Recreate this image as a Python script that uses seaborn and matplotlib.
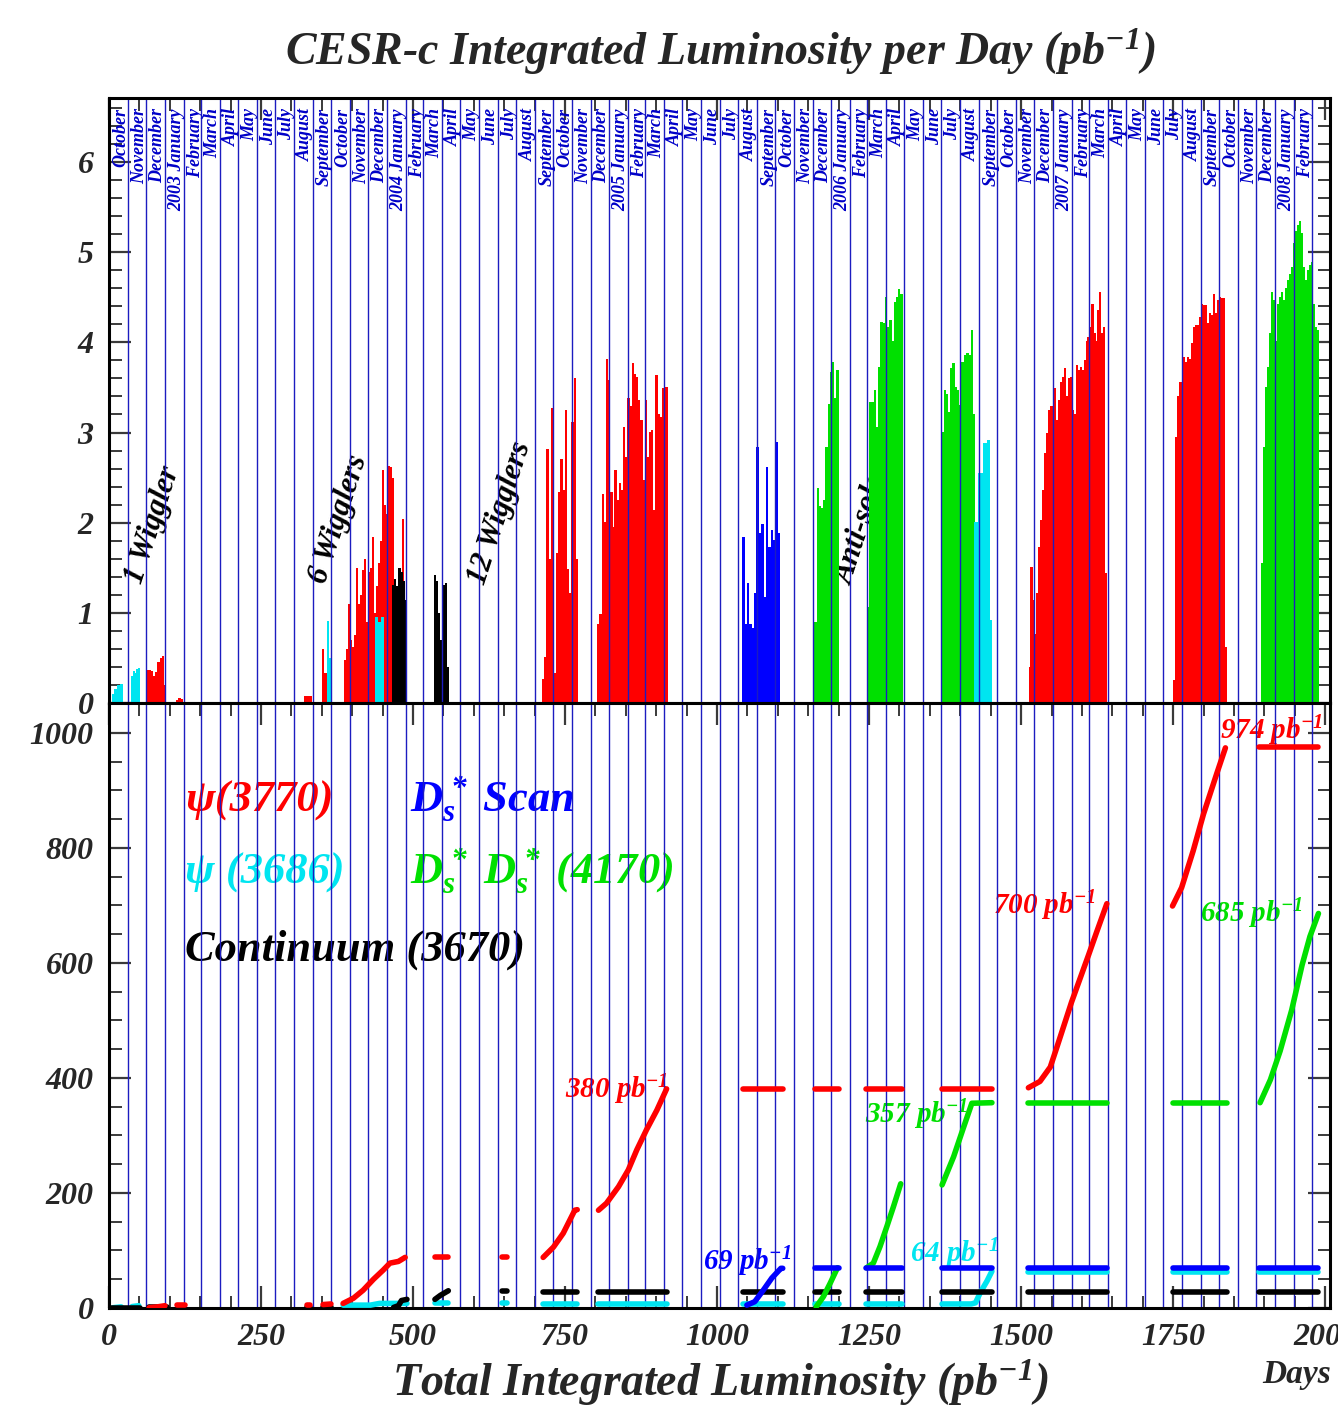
import numpy as np
import pandas as pd
import matplotlib
matplotlib.use("Agg")
import matplotlib.pyplot as plt
import matplotlib.transforms as mtransforms
from matplotlib.ticker import MultipleLocator
import seaborn as sns

# ---- calendar (day 0 = 1 October 2002) ----
first_day = "2002-10-01"
month_label_range = ("2002-10-01", "2008-02-01")
month_line_range = ("2002-11-01", "2008-03-01")

# ---- daily luminosity (pb^-1 per day): runs of (first day, last day, values) ----
psi3770_runs = [
    (64, 92, [0.37, 0.37, 0.36, 0.3, 0.34, 0.45, 0.5, 0.52, 0.2]),
    (112, 120, [0.03, 0.06, 0.04]),
    (324, 330, [0.08, 0.08]),
    (352, 356, [0.6, 0.33]),
    (388, 484, [0.48, 0.6, 1.1, 0.7, 0.62, 0.75, 1.5, 1.1, 1.2, 1.47, 1.6, 0.9, 1.45, 1.5, 1.84,
                1.0, 1.3, 1.55, 1.8, 2.58, 2.2, 2.1, 2.63, 2.62, 2.5, 1.2, 1.0, 1.0, 1.1, 2.04]),
    (714, 770, [0.27, 0.51, 2.82, 1.6, 3.27, 0.33, 1.66, 2.34, 2.71, 2.36, 3.25, 1.49, 1.22, 3.12, 3.6, 1.6]),
    (805, 918, [0.88, 0.99, 2.32, 2.01, 3.82, 3.58, 2.34, 1.95, 2.58, 2.25, 2.44, 2.36, 3.06, 2.73, 3.38,
                3.29, 3.77, 3.65, 3.62, 3.36, 3.14, 2.47, 3.36, 2.73, 3.01, 3.03, 2.14, 3.64, 3.21, 3.17,
                3.49, 3.51, 3.51]),
    (1514, 1640, [0.4, 1.51, 1.14, 0.77, 1.22, 1.73, 2.03, 2.36, 2.77, 2.99, 3.25, 3.29, 3.29, 3.49, 3.14,
                  3.36, 3.56, 3.62, 3.71, 3.4, 3.6, 3.62, 3.25, 3.21, 3.75, 3.69, 3.73, 3.69, 3.8, 4.02,
                  4.06, 4.17, 4.43, 4.1, 4.02, 4.36, 4.56, 4.1, 4.17, 1.44]),
    (1752, 1837, [0.25, 2.95, 3.4, 3.56, 3.56, 3.84, 3.78, 3.84, 3.82, 3.99, 4.17, 4.19, 4.19, 4.28, 4.43,
                  4.41, 4.41, 4.21, 4.32, 4.3, 4.54, 4.32, 4.47, 4.5, 4.49, 4.49, 0.62]),
]
dsscan_runs = [
    (1043, 1102, [1.84, 0.88, 1.33, 0.88, 0.83, 1.22, 2.84, 1.88, 1.99, 1.18, 2.62, 1.73, 1.92, 1.81, 2.9, 1.88]),
]
dsds_runs = [
    (1162, 1198, [0.9, 2.38, 2.18, 2.16, 2.25, 2.84, 3.32, 3.67, 3.78, 3.38, 3.69]),
    (1249, 1303, [1.07, 3.34, 3.34, 3.47, 3.06, 3.73, 4.23, 4.21, 4.5, 4.17, 4.25, 4.02, 4.45, 4.5, 4.59, 4.54]),
    (1372, 1422, [3.01, 3.47, 3.43, 3.23, 3.71, 3.77, 3.51, 3.47, 3.3, 3.78, 3.78, 3.86, 3.88, 3.86, 4.14, 3.21]),
    (1896, 1988, [1.55, 2.84, 3.51, 3.73, 4.1, 4.56, 4.47, 4.02, 4.43, 4.5, 4.56, 4.47, 4.6, 4.69, 4.76,
                  4.84, 5.1, 5.24, 5.3, 5.35, 5.21, 4.84, 4.69, 4.8, 4.86, 4.89, 4.43, 4.17, 4.14]),
]
psi3686_runs = [
    (7, 20, [0.1, 0.15, 0.2, 0.21]),
    (38, 49, [0.3, 0.36, 0.33, 0.38, 0.39]),
    (360, 364, [0.91, 0.5]),
    (440, 449, [0.95, 0.9, 0.95]),
    (1424, 1450, [2.01, 2.01, 2.55, 2.55, 2.88, 2.88, 2.92, 0.92]),
]
cont_runs = [
    (467, 488, [1.31, 1.37, 1.3, 1.5, 1.45, 1.35, 1.14]),
    (536, 558, [1.42, 1.35, 1.0, 0.7, 1.2, 1.31, 1.33, 0.4]),
]

# ---- integrated luminosity (pb^-1), one list per running period ----
psi3770_cum_days = [[66, 80, 92], [112, 125], [325, 331], [352, 365],
                    [385, 402, 418, 435, 451, 462, 476, 487], [536, 558], [647, 654],
                    [714, 731, 747, 766, 770], [805, 818, 838, 854, 868, 884, 901, 917],
                    [1043, 1108], [1161, 1200], [1245, 1304], [1370, 1452],
                    [1512, 1531, 1548, 1559, 1583, 1611, 1624, 1641],
                    [1749, 1764, 1783, 1800, 1822, 1836], [1892, 1989]]
psi3770_cum = [[0.5, 2, 4], [4.5, 4.5], [5, 5], [6, 7],
               [8, 17, 31, 50, 66, 78, 81, 88], [88, 88], [88, 88],
               [88, 106, 130, 170, 171], [170, 182, 211, 240, 275, 310, 344, 381],
               [381, 381], [381, 381], [381, 381], [381, 381],
               [383, 394, 419, 454, 532, 614, 653, 703],
               [699, 731, 795, 859, 930, 974], [975, 975]]
dsds_cum_days = [[1163, 1175, 1186, 1198], [1246, 1257, 1268, 1279, 1290, 1302],
                 [1370, 1389, 1405, 1419, 1452], [1512, 1641], [1749, 1838],
                 [1893, 1910, 1926, 1945, 1962, 1975, 1989]]
dsds_cum = [[2, 20, 43, 70], [70, 78, 107, 141, 176, 216],
            [214, 263, 313, 356, 357], [357, 357], [357, 357],
            [357, 397, 447, 518, 596, 646, 686]]
dsscan_cum_days = [[1049, 1062, 1076, 1090, 1105, 1108], [1161, 1200], [1245, 1304],
                   [1370, 1452], [1512, 1641], [1749, 1838], [1892, 1989]]
dsscan_cum = [[5, 11, 31, 52, 69, 69], [69, 69], [69, 69], [69, 69], [69, 69], [69, 69], [69, 69]]
psi3686_cum_days = [[7, 20], [38, 49], [385, 430, 445, 490], [536, 558], [647, 654],
                    [714, 770], [805, 918], [1043, 1108], [1161, 1200], [1245, 1304],
                    [1370, 1418, 1425, 1433, 1444, 1452], [1512, 1641], [1749, 1838], [1892, 1989]]
psi3686_cum = [[0.5, 2], [2.5, 4], [5, 5, 8, 8], [8, 8], [8, 8],
               [7, 7], [7, 7], [7, 7], [7, 7], [7, 7],
               [7, 7, 9, 27, 47, 64], [63, 63], [63, 63], [63, 63]]
cont_cum_days = [[2, 51], [66, 96], [325, 331], [352, 365], [468, 476, 481, 490],
                 [536, 545, 558], [647, 654], [714, 770], [805, 918], [1043, 1108],
                 [1161, 1200], [1245, 1304], [1370, 1452], [1512, 1641], [1749, 1838], [1892, 1989]]
cont_cum = [[0.5, 0.5], [1, 1], [1, 1], [1.5, 1.5], [1, 4, 13, 15],
            [15, 22, 30], [29, 29], [28, 28], [28, 28], [28, 28],
            [28, 28], [28, 28], [28, 28], [28, 28], [28, 28], [28, 28]]

# ---- text annotations ----
wiggler_labels = ["1 Wiggler", "6 Wigglers", "12 Wigglers", "Anti-solenoid"]
wiggler_pos = [(54, 1.31), (355, 1.31), (618, 1.30), (1222, 1.30)]
total_labels = ["380", "69", "357", "64", "700", "685", "974"]
total_pos = [(750, 365), (977, 66), (1243, 322), (1318, 80), (1454, 685), (1794, 671), (1827, 989)]
total_kind = ["psi3770", "dsscan", "dsds", "psi3686", "psi3770", "dsds", "psi3770"]

colors = {"psi3770": "#FF0000", "dsscan": "#0000FF", "dsds": "#00E000",
          "psi3686": "#00E5F0", "cont": "#000000"}
month_blue = "#1C1CC0"

sns.set_theme(style="ticks")
plt.rcParams["font.family"] = ["Liberation Serif", "DejaVu Serif"]
plt.rcParams["font.weight"] = "bold"
plt.rcParams["font.style"] = "italic"
plt.rcParams["mathtext.fontset"] = "custom"
plt.rcParams["mathtext.rm"] = "Liberation Serif:italic:bold"
plt.rcParams["mathtext.it"] = "Liberation Serif:italic:bold"
plt.rcParams["mathtext.bf"] = "Liberation Serif:italic:bold"

W, H = 1338, 1406
fig = plt.figure(figsize=(W / 100, H / 100), dpi=100)
fig.patch.set_facecolor("white")
x0, x1 = 109 / W, 1330 / W
ax1 = fig.add_axes([x0, 1 - 703 / H, x1 - x0, 605 / H])
ax2 = fig.add_axes([x0, 1 - 1308 / H, x1 - x0, 605 / H])

t0 = pd.Timestamp(first_day)
label_months = pd.date_range(*month_label_range, freq="MS")
line_months = pd.date_range(*month_line_range, freq="MS")
label_days = [(d - t0).days for d in label_months]
line_days = [(d - t0).days for d in line_months]
month_labels = [(f"{d.year} " if d.month == 1 else "") + d.strftime("%B") for d in label_months]

# ---- top panel: daily bars ----
for runs, key in [(psi3770_runs, "psi3770"), (dsscan_runs, "dsscan"), (dsds_runs, "dsds"),
                  (psi3686_runs, "psi3686"), (cont_runs, "cont")]:
    for start, end, vals in runs:
        days = np.linspace(start, end, len(vals))
        w = (end - start) / max(len(vals) - 1, 1) * 1.1
        ax1.bar(days, vals, width=w, color=colors[key], linewidth=0, zorder=2)

for txt, (dx, dy) in zip(wiggler_labels, wiggler_pos):
    ax1.text(dx, dy, txt, rotation=72, rotation_mode="anchor", ha="left", va="baseline",
             fontsize=22, color="black", zorder=1)

trans = mtransforms.blended_transform_factory(ax1.transData, ax1.transAxes)
for d, lab in zip(label_days, month_labels):
    ax1.text(d + 5, 0.983, lab, transform=trans, rotation=90, ha="left", va="top",
             fontsize=13, color="#0000C8", zorder=4)

# ---- bottom panel: integrated luminosity ----
rows = []
seg = 0
for key, dlist, vlist in [("psi3686", psi3686_cum_days, psi3686_cum), ("cont", cont_cum_days, cont_cum),
                          ("psi3770", psi3770_cum_days, psi3770_cum), ("dsds", dsds_cum_days, dsds_cum),
                          ("dsscan", dsscan_cum_days, dsscan_cum)]:
    for dd, vv in zip(dlist, vlist):
        for d, v in zip(dd, vv):
            rows.append({"day": d, "lum": v, "kind": key, "seg": seg})
        seg += 1
df = pd.DataFrame(rows)
sns.lineplot(data=df, x="day", y="lum", hue="kind", units="seg", estimator=None,
             hue_order=["psi3686", "cont", "psi3770", "dsds", "dsscan"], palette=colors,
             lw=4, legend=False, ax=ax2, zorder=3, solid_capstyle="round")

ax2.text(125, 863, "ψ(3770)", fontsize=32, color=colors["psi3770"], zorder=1)
ax2.text(495, 863, r"$D_s^*$ Scan", fontsize=32, color=colors["dsscan"], zorder=1)
ax2.text(125, 738, "ψ (3686)", fontsize=32, color=colors["psi3686"], zorder=1)
ax2.text(495, 738, r"$D_s^*\ D_s^*$ (4170)", fontsize=32, color=colors["dsds"], zorder=1)
ax2.text(125, 604, "Continuum (3670)", fontsize=32, color="black", zorder=1)
for lab, (dx, dy), key in zip(total_labels, total_pos, total_kind):
    ax2.text(dx, dy, lab + r" pb$^{-1}$", fontsize=21, color=colors[key], zorder=1)

# ---- month lines, axes ----
for ax in (ax1, ax2):
    for d in line_days:
        ax.axvline(d, color=month_blue, lw=1.0, zorder=2.5)
    ax.set_xlim(0, 2008)
    ax.set_facecolor("white")
    ax.set_xlabel("")
    ax.set_ylabel("")
    for sp in ax.spines.values():
        sp.set_visible(True)
        sp.set_linewidth(2.2)
        sp.set_color("black")
    ax.xaxis.set_major_locator(MultipleLocator(250))
    ax.xaxis.set_minor_locator(MultipleLocator(50))
    ax.tick_params(which="major", direction="in", length=16, width=1.6, color="#3a3a3a",
                   labelsize=23, pad=11)
    ax.tick_params(which="minor", direction="in", length=9, width=1.4, color="#3a3a3a")
    ax.tick_params(axis="y", which="both", left=True, right=True)

ax1.set_ylim(0, 6.71)
ax1.yaxis.set_major_locator(MultipleLocator(1))
ax1.yaxis.set_minor_locator(MultipleLocator(0.2))
ax1.tick_params(axis="x", which="both", bottom=False, top=True, labelbottom=False)

ax2.set_ylim(0, 1052)
ax2.yaxis.set_major_locator(MultipleLocator(200))
ax2.yaxis.set_minor_locator(MultipleLocator(50))
ax2.tick_params(axis="x", which="both", bottom=True, top=True)

fig.text(720 / W, 1 - 52 / H, r"CESR-c Integrated Luminosity per Day (pb$^{-1}$)",
         ha="center", va="center", fontsize=33)
fig.text(720 / W, 1 - 1383 / H, r"Total Integrated Luminosity (pb$^{-1}$)",
         ha="center", va="center", fontsize=33)
fig.text(1297 / W, 1 - 1375 / H, "Days", ha="center", va="center", fontsize=24)

fig.savefig("out.png", dpi=100, facecolor="white")
